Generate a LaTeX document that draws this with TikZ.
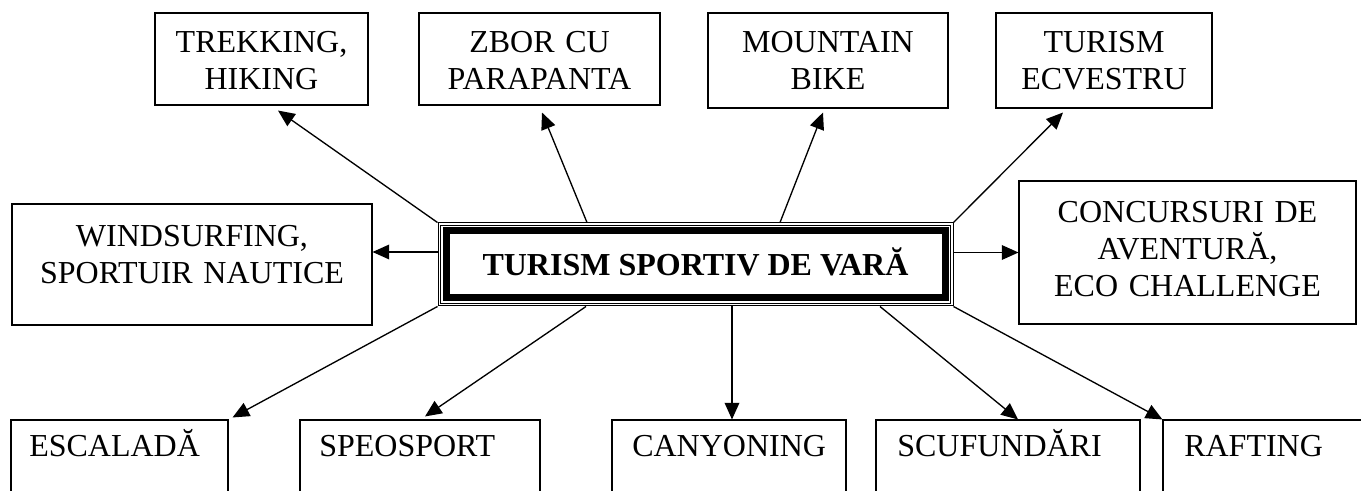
\documentclass[tikz,border=0pt]{standalone}
\usepackage{fontspec}
\setmainfont{Liberation Serif}
\usetikzlibrary{arrows.meta}

\tikzset{
  box/.style={draw, line width=0.8pt, inner sep=0pt},
  lbl/.style={font=\fontsize{24}{27.6}\selectfont, align=center, text width=11cm, inner sep=0pt, anchor=base},
  lbw/.style={font=\fontsize{24}{27.6}\selectfont, inner sep=0pt, anchor=base west},
  arr/.style={line width=1pt, -{Triangle[length=12.5pt,width=11pt]}},
}

\begin{document}
\begin{tikzpicture}[x=0.75pt,y=-0.75pt]
\useasboundingbox (0,0) rectangle (1361,491);
\clip (0,0) rectangle (1361,491);

% top row
\node[box, minimum width=159.75pt, minimum height=69pt] (trek) at (261.5,59) {};
\node[box, minimum width=180.75pt, minimum height=69pt] (zbor) at (539.5,59) {};
\node[box, minimum width=180pt, minimum height=71.25pt] (mtb) at (828,60.5) {};
\node[box, minimum width=162pt, minimum height=71.25pt] (ecv) at (1104,60.5) {};
\node[lbl] (trektxt) at (261.5,53) {TREKKING,\\HIKING};
\node[lbl] (zbortxt) at (539.5,53) {ZBOR CU\\PARAPANTA};
\node[lbl] (mtbtxt) at (828,53) {MOUNTAIN\\BIKE};
\node[lbl] (ecvtxt) at (1104,53) {TURISM\\ECVESTRU};

% middle row
\node[box, minimum width=270pt, minimum height=90.75pt] (wind) at (192,264.5) {};
\node[box, minimum width=252.75pt, minimum height=107.25pt] (conc) at (1187.5,252.5) {};
\node[lbl] (windtxt) at (192,247) {WINDSURFING,\\SPORTUIR NAUTICE};
\node[lbl] (conctxt) at (1187.5,223) {CONCURSURI DE\\AVENTUR\u{A},\\ECO CHALLENGE};

% central box
\node[box, line width=0.75pt, minimum width=386.25pt, minimum height=62.25pt,
  font=\fontsize{24}{27.6}\selectfont\bfseries, text height=16pt, text depth=0pt]
  (hub) at (695.5,264.5) {TURISM SPORTIV DE VAR\u{A}};
\draw[line width=0.6pt] ([shift={(2.7,2.7)}]hub.north west) rectangle ([shift={(-2.7,-2.7)}]hub.south east);
\draw[line width=5.25pt] ([shift={(8.5,8.5)}]hub.north west) rectangle ([shift={(-8.5,-8.5)}]hub.south east);

% bottom row
\node[box, minimum width=162.75pt, minimum height=60pt] (esc) at (119.5,460) {};
\node[box, minimum width=180pt, minimum height=60pt] (speo) at (420,460) {};
\node[box, minimum width=175.5pt, minimum height=60pt] (cany) at (729,460) {};
\node[box, minimum width=198pt, minimum height=60pt] (scuf) at (1008,460) {};
\node[box, minimum width=177.75pt, minimum height=60pt] (raft) at (1281.5,460) {};
\node[lbw] (esctxt) at (29,457) {ESCALAD\u{A}};
\node[lbw] (speotxt) at (319,457) {SPEOSPORT};
\node[lbw] (canytxt) at (632,457) {CANYONING};
\node[lbw] (scuftxt) at (897,457) {SCUFUND\u{A}RI};
\node[lbw] (rafttxt) at (1184,457) {RAFTING};

% arrows
\draw[arr] (hub.north west) -- ([shift={(16.5,5)}]trek.south);
\draw[arr] ([shift={(-108.5,0)}]hub.north) -- ([shift={(2.5,7)}]zbor.south);
\draw[arr] ([shift={(84.5,0)}]hub.north) -- ([shift={(-5,4)}]mtb.south);
\draw[arr] (hub.north east) -- ([shift={(-41,4)}]ecv.south);
\draw[arr] ([shift={(0,-12.5)}]hub.west) -- ([shift={(0,-12.5)}]wind.east);
\draw[arr] (hub.east |- conc.west) -- (conc.west);
\draw[arr] (hub.south west) -- ([shift={(4,-2)}]esc.north east);
\draw[arr] ([shift={(-109.5,0)}]hub.south) -- ([shift={(5,-3)}]speo.north);
\draw[arr] ([shift={(36.5,0)}]hub.south) -- ([shift={(3,0)}]cany.north);
\draw[arr] ([shift={(184.5,0)}]hub.south) -- ([shift={(10,0)}]scuf.north);
\draw[arr] (hub.south east) -- (raft.north west);
\end{tikzpicture}
\end{document}
